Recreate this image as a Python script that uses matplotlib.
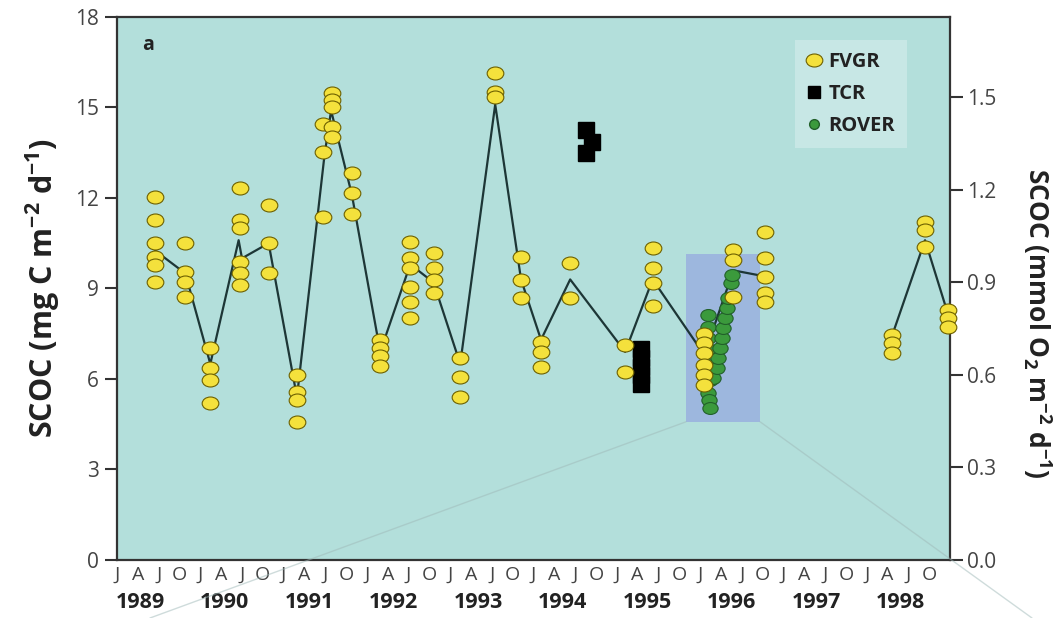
import numpy as np
import matplotlib
matplotlib.use('Agg')
import matplotlib.pyplot as plt
from matplotlib.path import Path
from matplotlib.lines import Line2D
from matplotlib.patches import Rectangle, ConnectionPatch

plt.rcParams['font.family'] = ['Open Sans', 'DejaVu Sans']
plt.rcParams['mathtext.fontset'] = 'custom'
plt.rcParams['mathtext.rm'] = 'Open Sans'
plt.rcParams['mathtext.bf'] = 'Open Sans:bold'

# FVGR: sampling date (decimal year) and individual SCOC values (mg C m-2 d-1)
fvgr_dates = [1989.46, 1989.82, 1990.12, 1990.48, 1990.82, 1991.16, 1991.47,
              1991.58, 1991.82, 1992.16, 1992.52, 1992.80, 1993.12, 1993.54,
              1993.85, 1994.09, 1994.44, 1995.10, 1995.43, 1996.05, 1996.40,
              1996.78, 1998.30, 1998.70, 1998.97]
fvgr_values = [
    [12.04, 11.27, 10.50, 10.05, 9.78, 9.22],
    [10.50, 9.56, 9.22, 8.73],
    [7.04, 6.35, 5.97, 5.19],
    [12.32, 11.27, 10.99, 9.89, 9.50, 9.12],
    [11.77, 10.52, 9.52],
    [6.13, 5.58, 5.30, 4.58],
    [11.38, 13.53, 14.45],
    [15.47, 15.25, 15.00, 14.36, 14.01],
    [12.84, 12.18, 11.47],
    [7.29, 7.04, 6.76, 6.43],
    [10.55, 10.00, 9.67, 9.04, 8.56, 8.01],
    [10.17, 9.67, 9.28, 8.86],
    [6.68, 6.08, 5.41],
    [16.13, 15.52, 15.36],
    [10.03, 9.28, 8.67],
    [7.24, 6.90, 6.41],
    [9.83, 8.67],
    [7.13, 6.24],
    [10.33, 9.67, 9.17, 8.42],
    [7.50, 7.18, 6.86, 6.46, 6.13, 5.80],
    [10.28, 9.94, 8.73],
    [10.88, 10.00, 9.39, 8.84, 8.56],
    [7.46, 7.18, 6.85],
    [11.21, 10.94, 10.39],
    [8.29, 8.01, 7.73],
]

# FVGR mean line (nan = gap in the record)
line_dates = [1989.46, 1989.82, 1990.12, 1990.46, 1990.50, 1990.82, 1991.16,
              1991.49, 1991.57, 1991.82, 1992.16, 1992.52, 1992.80, 1993.12,
              1993.54, 1993.85, 1994.09, 1994.44, 1995.10, 1995.43, 1996.05,
              1996.40, 1996.78, 1997.5, 1998.30, 1998.70, 1998.97]
line_values = [10.25, 9.5, 6.5, 10.6, 10.0, 10.5, 5.4,
               13.4, 14.9, 12.1, 6.9, 9.8, 9.2, 6.5,
               15.1, 9.3, 7.3, 9.3, 6.9, 9.3, 6.8,
               9.6, 9.4, np.nan, 7.4, 10.6, 8.2]

# TCR
tcr_dates = [1994.63, 1994.70, 1994.63, 1995.29, 1995.29, 1995.29, 1995.29, 1995.29]
tcr_values = [14.25, 13.86, 13.49, 6.99, 6.70, 6.41, 6.12, 5.83]

# ROVER
rover_dates = [1996.09, 1996.09, 1996.10, 1996.10, 1996.11, 1996.11, 1996.12,
               1996.10, 1996.11, 1996.12, 1996.13, 1996.16, 1996.20, 1996.22,
               1996.24, 1996.26, 1996.28, 1996.30, 1996.32, 1996.34, 1996.37,
               1996.38]
rover_values = [8.12, 7.73, 7.35, 7.00, 6.65, 6.30, 5.95, 5.52, 5.30, 5.03, 6.52,
                6.02, 6.35, 6.68, 7.02, 7.35, 7.68, 8.01, 8.34, 8.67, 9.17, 9.45]

# highlighted ROVER period (x0, x1, y0, y1)
rover_box = (1995.83, 1996.72, 4.58, 10.14)

month_letters = ['J', 'A', 'J', 'O']
years = list(range(1989, 1999))

bg = '#b3dfdb'
fig = plt.figure(figsize=(10.59, 6.18), dpi=100)
ax = fig.add_axes([0.1105, 0.0939, 0.7866, 0.8786])
ax.set_facecolor(bg)

oval = Path(Path.unit_circle().vertices * [1, 0.78], Path.unit_circle().codes)

x0, x1, y0, y1 = rover_box
ax.add_patch(Rectangle((x0, y0), x1 - x0, y1 - y0, facecolor='#9db7de',
                       edgecolor='none', zorder=1))

ax.plot(line_dates, line_values, color='#1d3636', lw=1.6, zorder=2)

ax.plot(tcr_dates, tcr_values, ls='none', marker='s', ms=11, color='black',
        zorder=3)
ax.plot(rover_dates, rover_values, ls='none', marker=oval, ms=11,
        markerfacecolor='#3b9a3c', markeredgecolor='#22602a', mew=0.8, zorder=4)

fx = [d for d, vals in zip(fvgr_dates, fvgr_values) for v in vals]
fy = [v for vals in fvgr_values for v in vals]
ax.plot(fx, fy, ls='none', marker=oval, ms=12, markerfacecolor='#f4e13c',
        markeredgecolor='#6d6000', mew=0.8, zorder=5, clip_on=False)

ax.set_xlim(1989, 1999)
ax.set_ylim(0, 18)
ax.set_yticks(range(0, 19, 3))

ticks = [y + q * 0.25 for y in years for q in range(4)]
ax.set_xticks(ticks, month_letters * len(years))
ax.tick_params(axis='x', length=0, pad=4, labelsize=14, labelcolor='#444444')
ax.tick_params(axis='y', length=9, width=1.5, pad=4, labelsize=15,
               labelcolor='#444444', color='#333333')
for i, y in enumerate(years):
    ax.text(1989.28 + i * 1.014, -0.078, str(y), transform=ax.get_xaxis_transform(),
            ha='center', va='center', fontsize=15.5, fontweight='bold',
            color='#222222')

for s in ax.spines.values():
    s.set_color('#333333')
    s.set_linewidth(1.6)

ax.set_ylabel(r'SCOC (mg C m$^{\mathbf{-2}}$ d$^{\mathbf{-1}}$)', fontsize=22,
              fontweight='bold', color='#222222')
ax.yaxis.set_label_coords(-0.066, 0.5)

ax.text(0.03, 0.948, 'a', transform=ax.transAxes, fontsize=14,
        fontweight='bold', color='#222222', va='center')

ax2 = ax.twinx()
ax2.set_ylim(0, 1.76)
ax2.set_yticks(np.arange(0, 1.51, 0.3))
ax2.set_yticklabels(['%.1f' % v for v in np.arange(0, 1.51, 0.3)])
ax2.tick_params(axis='y', length=9, width=1.5, labelsize=15,
                labelcolor='#444444', color='#333333')
for s in ax2.spines.values():
    s.set_visible(False)
ax2.set_ylabel(r'SCOC (mmol O$_\mathbf{2}$ m$^{\mathbf{-2}}$ d$^{\mathbf{-1}}$)',
               fontsize=19, fontweight='bold', color='#222222', rotation=270)
ax2.yaxis.set_label_coords(1.124, 0.436)

handles = [
    Line2D([], [], ls='none', marker=oval, ms=12, markerfacecolor='#f4e13c',
           markeredgecolor='#6d6000', mew=0.8),
    Line2D([], [], ls='none', marker='s', ms=8, color='black'),
    Line2D([], [], ls='none', marker='o', ms=7, markerfacecolor='#3b9a3c',
           markeredgecolor='#22602a'),
]
leg = ax.legend(handles, ['FVGR', 'TCR', 'ROVER'], loc='upper left',
                bbox_to_anchor=(0.814, 0.958), borderaxespad=0, frameon=True,
                fancybox=False, handlelength=0.7, handletextpad=0.35,
                labelspacing=0.6, borderpad=0.6,
                prop={'weight': 'bold', 'size': 14.5})
leg.get_frame().set_facecolor('#c7e7e5')
leg.get_frame().set_edgecolor('none')
leg.get_frame().set_alpha(1)
for t in leg.get_texts():
    t.set_color('#222222')

# faint guide lines from the highlighted box towards the page bottom
for xa, xb in [(x0, 150 / 1059), (x1, 1032 / 1059)]:
    con = ConnectionPatch(xyA=(xa, y0), coordsA=ax.transData,
                          xyB=(xb, 0), coordsB=fig.transFigure,
                          color='#9fb9b8', lw=1.0, alpha=0.5, zorder=0.5)
    fig.add_artist(con)

fig.savefig('out.png', dpi=100)
